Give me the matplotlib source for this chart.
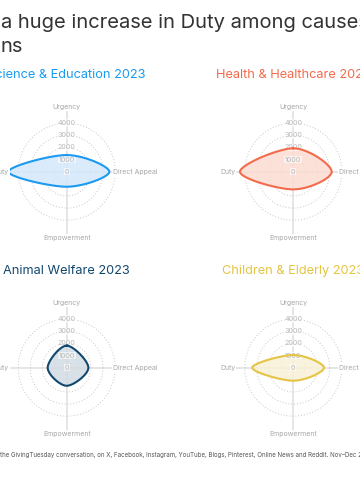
import matplotlib.pyplot as plt
import numpy as np

plt.rcParams['font.family'] = ['Inter', 'DejaVu Sans']

# axes of the radar, clockwise from the top
categories = ["Urgency", "Direct Appeal", "Empowerment", "Duty"]
rings = [1000, 2000, 3000, 4000]

titles = ["Science & Education 2023", "Health & Healthcare 2023",
          "Animal Welfare 2023", "Children & Elderly 2023"]
science = [1375, 3520, 1240, 4810]
health = [1925, 3170, 1460, 4400]
animal = [1820, 1790, 1490, 1570]
children = [1045, 2535, 1075, 3390]
series = [science, health, animal, children]

line_colors = ["#1a9af0", "#f26b4c", "#12486e", "#e5c443"]
fill_colors = ["#d4e8fb", "#fcdcd3", "#d2dce3", "#f8f0d6"]

W, H = 360, 500
PX = 48.5 / 4000  # pixels per unit
centers = [(66.7, 171.7), (293.3, 171.7), (66.7, 367.7), (293.3, 367.7)]
half = 75  # half size of each panel axes in px


def smooth_closed(xs, ys, n=40):
    # closed Catmull-Rom spline through the points
    pts = np.column_stack([xs, ys])
    m = len(pts)
    out = []
    t = np.linspace(0, 1, n, endpoint=False)[:, None]
    for i in range(m):
        p0, p1, p2, p3 = pts[i - 1], pts[i], pts[(i + 1) % m], pts[(i + 2) % m]
        b1 = p1 + (p2 - p0) / 6
        b2 = p2 - (p3 - p1) / 6
        seg = ((1 - t) ** 3) * p1 + 3 * ((1 - t) ** 2) * t * b1 + 3 * (1 - t) * t ** 2 * b2 + t ** 3 * p2
        out.append(seg)
    out = np.vstack(out + [pts[:1]])
    return out[:, 0], out[:, 1]


fig = plt.figure(figsize=(W / 100, H / 100), dpi=100)
fig.patch.set_facecolor("white")

angles = np.deg2rad([90, 0, -90, 180])
th = np.linspace(0, 2 * np.pi, 200)
L = half / PX

for i, (cx, cy) in enumerate(centers):
    ax = fig.add_axes([(cx - half) / W, 1 - (cy + half) / H, 2 * half / W, 2 * half / H])
    ax.set_xlim(-L, L)
    ax.set_ylim(-L, L)
    ax.set_aspect("equal")
    ax.axis("off")

    # axis lines
    r_ax = 62 / PX
    ax.plot([0, 0], [-r_ax, r_ax], color="#e2e2e2", lw=1.2, zorder=1, clip_on=False)
    ax.plot([-r_ax, r_ax], [0, 0], color="#e2e2e2", lw=1.2, zorder=1, clip_on=False)

    # dotted rings
    for r in rings:
        ax.plot(r * np.cos(th), r * np.sin(th), color="#c8c8c8", lw=0.7,
                linestyle=(0, (1, 2)), zorder=1, clip_on=False)

    vals = np.array(series[i])
    xs = vals * np.cos(angles)
    ys = vals * np.sin(angles)
    sx, sy = smooth_closed(xs, ys)
    ax.fill(sx, sy, color=fill_colors[i], alpha=0.85, zorder=2, lw=0, clip_on=False)
    ax.plot(sx, sy, color=line_colors[i], lw=1.5, zorder=4, clip_on=False)

    # ring value labels
    for r in [0] + rings:
        ax.text(0, r, str(r), ha="center", va="center", fontsize=5.2, color="#b8b8b8",
                zorder=3, bbox=dict(boxstyle="square,pad=0.1", fc="white", ec="none", alpha=0.6))

    # axis labels
    lab = dict(fontsize=5.0, color="#a8a8a8", va="center", zorder=5,
               bbox=dict(boxstyle="square,pad=0.15", fc="white", ec="none"))
    ax.text(0, 65 / PX, categories[0], ha="center", **lab)
    ax.text(46 / PX, 0, categories[1], ha="left", **lab)
    ax.text(0, -66.7 / PX, categories[2], ha="center", **lab)
    ax.text(-58 / PX, 0, categories[3], ha="right", **lab)

    # panel title
    ty = 75 if i < 2 else 271
    fig.text(cx / W, 1 - ty / H, titles[i], ha="center", va="center",
             fontsize=9.2, color=line_colors[i])

# main title (cut by the canvas edge)
fig.text(1 / W, 1 - 28 / H, "a huge increase in Duty among causes", ha="left",
         va="baseline", fontsize=14.5, color="#333333")
fig.text(0 / W, 1 - 52 / H, "ns", ha="left", va="baseline", fontsize=14.5, color="#333333")

# footnote
fig.text(0 / W, 1 - 455 / H,
         "the GivingTuesday conversation, on X, Facebook, Instagram, YouTube, Blogs, "
         "Pinterest, Online News and Reddit. Nov\u2013Dec 2023",
         ha="left", va="center", fontsize=4.45, color="#555555")

fig.savefig("out.png", dpi=100, facecolor="white")
